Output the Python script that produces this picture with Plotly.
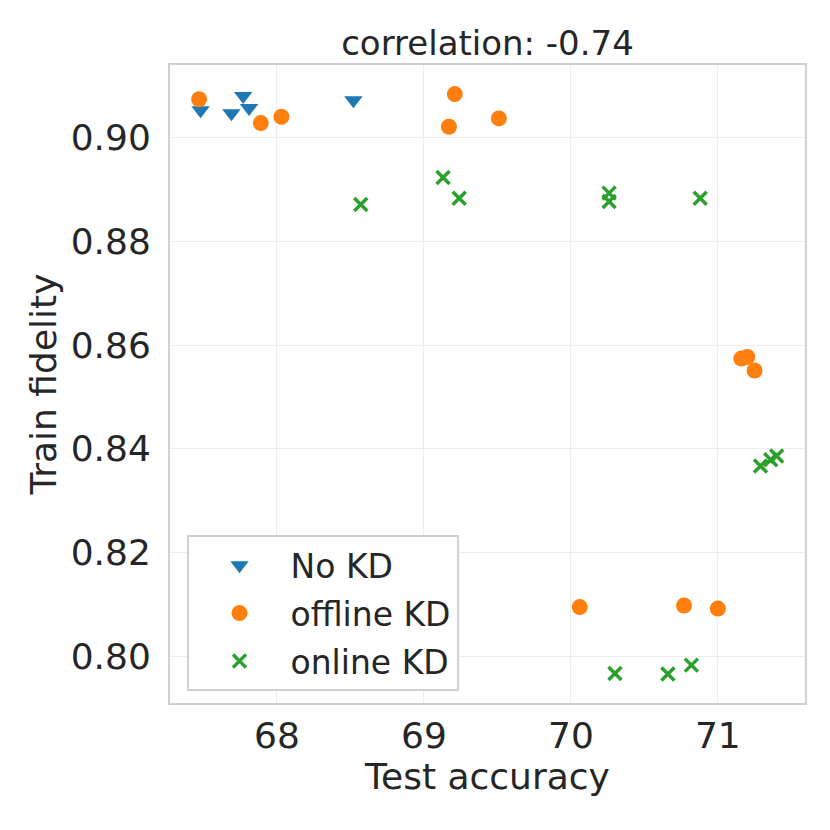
import plotly.graph_objects as go

# values
no_kd_acc = [67.48, 67.69, 67.77, 67.81, 68.52]
no_kd_fid = [0.9053, 0.9047, 0.9080, 0.9057, 0.9072]

offline_acc = [67.47, 67.89, 68.03, 69.21, 69.17, 69.51, 71.16, 71.20, 71.25, 70.06, 70.77, 71.00]
offline_fid = [0.9074, 0.9028, 0.9040, 0.9084, 0.9021, 0.9037, 0.8574, 0.8577, 0.8551, 0.8095, 0.8098, 0.8092]

online_acc = [68.57, 69.13, 69.24, 70.26, 70.26, 70.88, 71.29, 71.36, 71.40, 70.30, 70.66, 70.82]
online_fid = [0.8871, 0.8923, 0.8883, 0.8893, 0.8877, 0.8883, 0.8367, 0.8379, 0.8386, 0.7967, 0.7966, 0.7983]

x_ticks = [68, 69, 70, 71]
y_ticks = [0.80, 0.82, 0.84, 0.86, 0.88, 0.90]
title_text = "correlation: -0.74"

FONT = "DejaVu Sans"
TEXT = "#262626"

fig = go.Figure()
fig.add_trace(go.Scatter(
    x=no_kd_acc, y=no_kd_fid, mode="markers", name="No KD", legendgroup="a",
    marker=dict(symbol="triangle-down", size=16, color="#1f77b4", line=dict(width=0)),
))
fig.add_trace(go.Scatter(
    x=offline_acc, y=offline_fid, mode="markers", name="offline KD", legendgroup="b",
    marker=dict(symbol="circle", size=16, color="#ff7f0e", line=dict(width=0)),
))
fig.add_trace(go.Scatter(
    x=online_acc, y=online_fid, mode="markers", name="online KD", legendgroup="c",
    marker=dict(symbol="x-thin", size=13, color="#2ca02c", line=dict(width=3.5, color="#2ca02c")),
))

# page body has an 8px margin, so the margins are shifted by that much
fig.update_layout(
    width=830, height=830,
    margin=dict(l=162, r=33, t=57, b=135),
    paper_bgcolor="white", plot_bgcolor="white",
    font=dict(family=FONT, color=TEXT, size=36),
    title=dict(text=title_text, x=0.5, xref="paper", xanchor="center",
               y=1, yref="paper", yanchor="bottom", pad=dict(b=10),
               font=dict(size=34, color=TEXT)),
    legend=dict(x=0.026, y=0.263, xanchor="left", yanchor="top",
                bgcolor="white", bordercolor="#d0d0d0", borderwidth=2,
                font=dict(size=33, color=TEXT), itemwidth=92, tracegroupgap=2),
)
axis_common = dict(
    showgrid=True, gridcolor="#ededed", gridwidth=1, zeroline=False,
    showline=True, mirror=True, linecolor="#d0d0d0", linewidth=2,
    ticks="", tickfont=dict(size=36, color=TEXT),
)
fig.update_xaxes(range=[67.272, 71.593], tickvals=x_ticks, ticklabelstandoff=0,
                 title=dict(text="Test accuracy", font=dict(size=36), standoff=8),
                 **axis_common)
fig.update_yaxes(range=[0.7910, 0.9140], tickvals=y_ticks, tickformat=".2f",
                 ticklabelstandoff=10,
                 title=dict(text="Train fidelity", font=dict(size=36), standoff=3),
                 **axis_common)

fig.write_html("out.html")
